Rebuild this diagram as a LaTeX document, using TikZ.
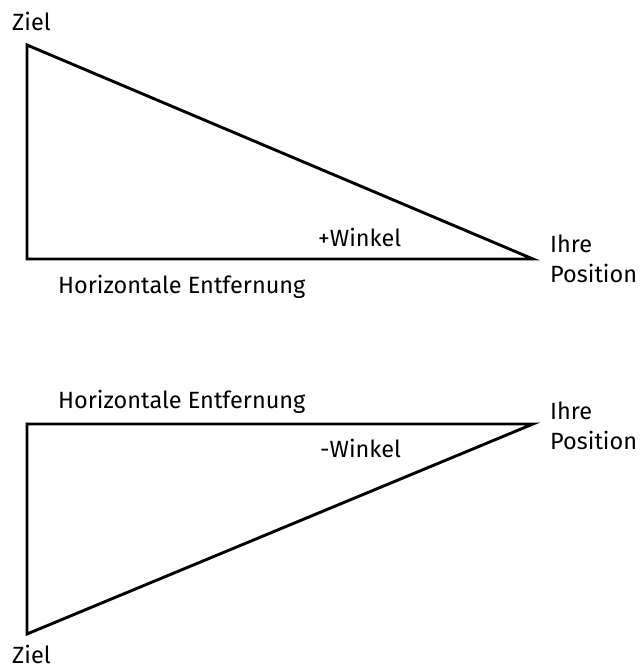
\documentclass[tikz,border=0pt]{standalone}
\usepackage{fontspec}
\setmainfont{Fira Sans}
\begin{document}
\begin{tikzpicture}[x=1pt,y=-1pt,
  edge/.style={line width=2.9pt,line join=miter},
  lbl/.style={inner sep=0pt,anchor=base west,font=\fontsize{23.5}{30}\selectfont,align=left}]
\useasboundingbox (0,0) rectangle (640,668);
% top triangle
\coordinate (t1) at (27,45);
\coordinate (t2) at (27,259);
\coordinate (t3) at (533,259);
\draw[edge] (t1) -- (t2) -- (t3) -- cycle;
\node[lbl] (z1) at (12,31) {Ziel};
\node[lbl] (w1) at (318,246) {+Winkel};
\node[lbl] (p1) at (550,282) {Ihre\\Position};
\node[lbl] (h1) at (58,293) {Horizontale Entfernung};
% bottom triangle
\coordinate (b1) at (27,424);
\coordinate (b2) at (533,424);
\coordinate (b3) at (27,634);
\draw[edge] (b1) -- (b2) -- (b3) -- cycle;
\node[lbl] (h2) at (58,408) {Horizontale Entfernung};
\node[lbl] (w2) at (320,457) {-Winkel};
\node[lbl] (p2) at (550,449) {Ihre\\Position};
\node[lbl] (z2) at (12,663) {Ziel};
\end{tikzpicture}
\end{document}
